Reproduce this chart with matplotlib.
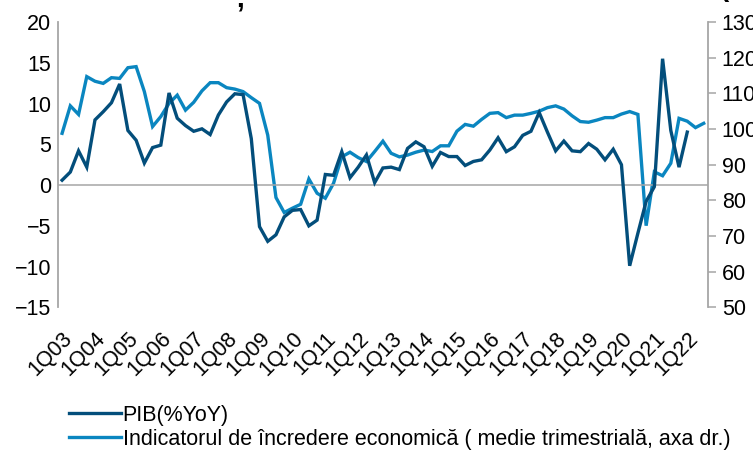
import matplotlib
matplotlib.use("Agg")
import matplotlib.pyplot as plt

plt.rcParams['font.family'] = ['Liberation Sans', 'DejaVu Sans']

# quarters 1Q03 .. 3Q22
years = list(range(2003, 2023))
quarters = [f"{q}Q{y % 100:02d}" for y in years for q in range(1, 5)][:79]

# PIB (%YoY), left axis, 1Q03 .. 1Q22
pib = [0.6, 1.6, 4.2, 2.2, 8.0, 9.0, 10.1, 12.4, 6.7, 5.5, 2.7, 4.6, 4.9, 11.3, 8.2,
       7.3, 6.6, 6.9, 6.2, 8.6, 10.2, 11.2, 11.1, 5.7, -5.1, -6.9, -6.1, -3.9, -3.1, -3.0,
       -5.0, -4.3, 1.3, 1.2, 4.1, 0.9, 2.2, 3.7, 0.3, 2.1, 2.2, 1.9, 4.5, 5.3, 4.7,
       2.3, 4.0, 3.5, 3.5, 2.4, 2.9, 3.1, 4.3, 5.8, 4.1, 4.7, 6.1, 6.6, 8.9, 6.5,
       4.2, 5.4, 4.2, 4.1, 5.1, 4.4, 3.1, 4.4, 2.5, -9.9, -5.9, -2.0, -0.2, 15.5, 6.7,
       2.2, 6.5]

# economic sentiment indicator, quarterly mean, right axis, 1Q03 .. 3Q22
esi = [98.8, 106.5, 104.1, 114.7, 113.4, 112.8, 114.4, 114.2, 117.2, 117.5, 110.5, 100.7, 103.5, 107.2, 109.5,
       105.3, 107.5, 110.7, 113.0, 113.0, 111.6, 111.2, 110.5, 108.8, 107.2, 98.3, 80.8, 76.6, 77.8, 78.9,
       86.0, 82.0, 80.6, 84.8, 92.2, 93.5, 92.0, 90.9, 93.7, 96.6, 93.2, 92.2, 92.7, 93.5, 94.1,
       93.7, 95.3, 95.3, 99.4, 101.3, 100.8, 102.7, 104.4, 104.6, 103.2, 103.9, 103.9, 104.4, 105.0, 106.0,
       106.5, 105.6, 103.7, 102.1, 101.9, 102.5, 103.2, 103.2, 104.2, 104.9, 104.1, 72.9, 88.0, 86.9, 90.4,
       103.0, 102.2, 100.4, 101.6]

dark = '#034e7b'
light = '#0a86c0'
grey = '#a6a6a6'
fs = 15.5

fig = plt.figure(figsize=(7.53, 4.5), dpi=100)
ax = fig.add_axes([0.077, 0.317, 0.863, 0.634])
ax2 = ax.twinx()

x_pib = list(range(len(pib)))
x_esi = list(range(len(esi)))
l1, = ax.plot(x_pib, pib, color=dark, lw=2.4, solid_joinstyle='miter', zorder=3)
l2, = ax2.plot(x_esi, esi, color=light, lw=2.4, solid_joinstyle='miter', zorder=3)
ax.axhline(0, color=grey, lw=1.1, zorder=1)

ax.set_xlim(-0.5, len(quarters) - 0.5)
ax.set_ylim(-15, 20)
ax.set_yticks(range(-15, 21, 5))
ax2.set_ylim(50, 130)
ax2.set_yticks(range(50, 131, 10))

ax.set_zorder(ax2.get_zorder() + 1)
ax.patch.set_visible(False)

ticks = list(range(0, len(quarters), 4))
ax.set_xticks(ticks)
ax.set_xticklabels([quarters[i] for i in ticks], rotation=45, ha='right',
                   rotation_mode='anchor', fontsize=fs)
ax.tick_params(axis='x', length=0, pad=15)
ax.tick_params(axis='y', length=0, labelsize=fs, pad=5)
ax2.tick_params(axis='y', length=6, width=1.1, color=grey, labelsize=fs, pad=4)

for a in (ax, ax2):
    for s in ('top', 'bottom'):
        a.spines[s].set_visible(False)
ax.spines['right'].set_visible(False)
ax.spines['left'].set_color(grey)
ax.spines['left'].set_linewidth(1.3)
ax2.spines['left'].set_visible(False)
ax2.spines['right'].set_color(grey)
ax2.spines['right'].set_linewidth(1.3)

fig.legend([l1, l2], ['PIB(%YoY)', 'Indicatorul de încredere economică ( medie trimestrială, axa dr.)'],
           loc='upper left', bbox_to_anchor=(0.08, 0.12), frameon=False, fontsize=fs,
           handlelength=2.4, handletextpad=0.1, labelspacing=0.15, borderaxespad=0)

# cut-off chart title remnants at the very top
fig.text(236 / 753, 0.985, ',', fontsize=20, fontweight='bold', ha='left', va='baseline')
fig.text(720 / 753, 1.01, '(', fontsize=20, fontweight='bold', ha='left', va='baseline')

fig.savefig('out.png', dpi=100)
